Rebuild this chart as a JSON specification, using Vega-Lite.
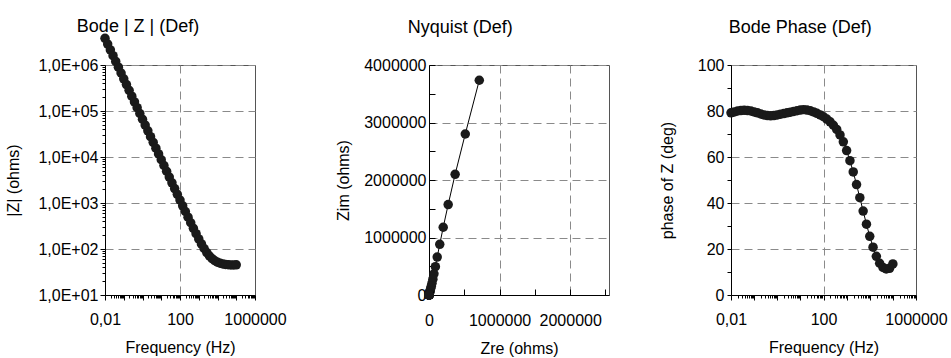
{
  "$schema": "https://vega.github.io/schema/vega-lite/v6.json",
  "background": "white",
  "padding": {"left": 5, "right": 4, "top": 17, "bottom": 0},
  "spacing": 48,
  "config": {
    "font": "Liberation Sans",
    "view": {"stroke": "#555555", "strokeWidth": 1},
    "axis": {
      "labelFont": "Liberation Sans", "labelFontSize": 16, "labelColor": "#000000",
      "titleFont": "Liberation Sans", "titleFontSize": 16, "titleFontWeight": "normal", "titleColor": "#000000",
      "domainColor": "#000000", "tickColor": "#000000", "tickSize": 4,
      "gridColor": "#8a8a8a", "gridDash": [8, 5], "gridWidth": 1,
      "labelFlush": false, "labelOverlap": false
    },
    "title": {"font": "Liberation Sans", "fontSize": 18, "fontWeight": "normal", "color": "#000000", "frame": "bounds", "offset": 20}
  },
  "datasets": {
    "eis": [
      {"f": 0.01, "z": 3802000, "ph": 79.2, "zre": 712500, "zim": 3734700},
      {"f": 0.013895, "z": 2847000, "ph": 79.6, "zre": 513900, "zim": 2800300},
      {"f": 0.019307, "z": 2132000, "ph": 80.0, "zre": 370100, "zim": 2099600},
      {"f": 0.026827, "z": 1596000, "ph": 80.2, "zre": 271600, "zim": 1572700},
      {"f": 0.037276, "z": 1195000, "ph": 80.3, "zre": 201400, "zim": 1177900},
      {"f": 0.051795, "z": 895000, "ph": 80.2, "zre": 152300, "zim": 881900},
      {"f": 0.071969, "z": 670000, "ph": 80.0, "zre": 116300, "zim": 659800},
      {"f": 0.1, "z": 501000, "ph": 79.6, "zre": 90430, "zim": 492800},
      {"f": 0.13895, "z": 375000, "ph": 79.2, "zre": 70280, "zim": 368400},
      {"f": 0.19307, "z": 281000, "ph": 78.7, "zre": 55050, "zim": 275500},
      {"f": 0.26827, "z": 210000, "ph": 78.3, "zre": 42590, "zim": 205600},
      {"f": 0.37276, "z": 157400, "ph": 78.0, "zre": 32720, "zim": 153960},
      {"f": 0.51795, "z": 118000, "ph": 77.9, "zre": 24730, "zim": 115380},
      {"f": 0.71969, "z": 88300, "ph": 78.0, "zre": 18360, "zim": 86370},
      {"f": 1, "z": 66100, "ph": 78.3, "zre": 13410, "zim": 64720},
      {"f": 1.3895, "z": 49500, "ph": 78.6, "zre": 9790, "zim": 48520},
      {"f": 1.9307, "z": 37100, "ph": 78.9, "zre": 7140, "zim": 36410},
      {"f": 2.6827, "z": 27700, "ph": 79.2, "zre": 5190, "zim": 27210},
      {"f": 3.7276, "z": 20800, "ph": 79.5, "zre": 3790, "zim": 20450},
      {"f": 5.1795, "z": 15560, "ph": 79.8, "zre": 2756, "zim": 15310},
      {"f": 7.1969, "z": 11640, "ph": 80.1, "zre": 2001, "zim": 11470},
      {"f": 10, "z": 8720, "ph": 80.4, "zre": 1454, "zim": 8600},
      {"f": 13.895, "z": 6540, "ph": 80.6, "zre": 1068, "zim": 6452},
      {"f": 19.307, "z": 4900, "ph": 80.4, "zre": 817, "zim": 4831},
      {"f": 26.827, "z": 3670, "ph": 80.1, "zre": 631, "zim": 3615},
      {"f": 37.276, "z": 2750, "ph": 79.6, "zre": 496, "zim": 2705},
      {"f": 51.795, "z": 2058, "ph": 79.0, "zre": 393, "zim": 2020},
      {"f": 71.969, "z": 1543, "ph": 78.3, "zre": 313, "zim": 1511},
      {"f": 100, "z": 1156, "ph": 77.5, "zre": 250, "zim": 1129},
      {"f": 138.95, "z": 869, "ph": 76.5, "zre": 203, "zim": 845},
      {"f": 193.07, "z": 653, "ph": 75.3, "zre": 166, "zim": 632},
      {"f": 268.27, "z": 493, "ph": 73.8, "zre": 137.5, "zim": 473.4},
      {"f": 372.76, "z": 372, "ph": 72.0, "zre": 115, "zim": 353.8},
      {"f": 517.95, "z": 282, "ph": 69.6, "zre": 98.3, "zim": 264.3},
      {"f": 719.69, "z": 215, "ph": 66.6, "zre": 85.4, "zim": 197.3},
      {"f": 1000, "z": 166, "ph": 62.8, "zre": 75.9, "zim": 147.6},
      {"f": 1389.5, "z": 129, "ph": 58.4, "zre": 67.6, "zim": 109.9},
      {"f": 1930.7, "z": 102.6, "ph": 53.5, "zre": 61.0, "zim": 82.5},
      {"f": 2682.7, "z": 83.7, "ph": 48.0, "zre": 56.0, "zim": 62.2},
      {"f": 3727.6, "z": 70.5, "ph": 42.3, "zre": 52.1, "zim": 47.4},
      {"f": 5179.5, "z": 61.5, "ph": 36.5, "zre": 49.4, "zim": 36.6},
      {"f": 7196.9, "z": 55.5, "ph": 30.8, "zre": 47.7, "zim": 28.4},
      {"f": 10000, "z": 51.5, "ph": 25.5, "zre": 46.5, "zim": 22.2},
      {"f": 13895, "z": 49.0, "ph": 20.8, "zre": 45.8, "zim": 17.4},
      {"f": 19307, "z": 47.3, "ph": 16.8, "zre": 45.3, "zim": 13.7},
      {"f": 26827, "z": 46.3, "ph": 13.8, "zre": 45.0, "zim": 11.0},
      {"f": 37276, "z": 45.5, "ph": 12.0, "zre": 44.5, "zim": 9.5},
      {"f": 51795, "z": 45.1, "ph": 11.3, "zre": 44.2, "zim": 8.8},
      {"f": 71969, "z": 45.0, "ph": 11.6, "zre": 44.1, "zim": 9.0},
      {"f": 100000, "z": 45.2, "ph": 13.5, "zre": 44.0, "zim": 10.6}
    ]
  },
  "hconcat": [
    {
      "width": 150, "height": 230,
      "title": {"text": "Bode | Z | (Def)", "offset": -2, "dx": -8},
      "data": {"name": "eis"},
      "encoding": {
        "x": {
          "field": "f", "type": "quantitative", "title": "Frequency (Hz)",
          "scale": {"type": "log", "domain": [0.01, 1000000], "nice": false},
          "axis": {
            "values": [0.01, 0.02, 0.03, 0.04, 0.05, 0.06, 0.07, 0.08, 0.09, 0.1, 0.2, 0.3, 0.4, 0.5, 0.6, 0.7, 0.8, 0.9, 1, 2, 3, 4, 5, 6, 7, 8, 9, 10, 20, 30, 40, 50, 60, 70, 80, 90, 100, 200, 300, 400, 500, 600, 700, 800, 900, 1000, 2000, 3000, 4000, 5000, 6000, 7000, 8000, 9000, 10000, 20000, 30000, 40000, 50000, 60000, 70000, 80000, 90000, 100000, 200000, 300000, 400000, 500000, 600000, 700000, 800000, 900000, 1000000],
            "labelExpr": "datum.value == 0.01 ? '0,01' : (datum.value == 100 || datum.value == 1000000 ? format(datum.value, 'd') : '')",
            "grid": true,
            "gridOpacity": {"condition": {"test": "datum.value == 100", "value": 1}, "value": 0},
            "tickSize": {"condition": {"test": "abs(log(datum.value)/LN10 - round(log(datum.value)/LN10)) < 0.000001", "value": 5}, "value": 3},
            "labelPadding": 11,
            "titlePadding": 12
          }
        },
        "y": {
          "field": "z", "type": "quantitative", "title": "|Z| (ohms)",
          "scale": {"type": "log", "domain": [10, 1000000], "nice": false},
          "axis": {
            "values": [10, 20, 30, 40, 50, 60, 70, 80, 90, 100, 200, 300, 400, 500, 600, 700, 800, 900, 1000, 2000, 3000, 4000, 5000, 6000, 7000, 8000, 9000, 10000, 20000, 30000, 40000, 50000, 60000, 70000, 80000, 90000, 100000, 200000, 300000, 400000, 500000, 600000, 700000, 800000, 900000, 1000000],
            "labelExpr": "abs(log(datum.value)/LN10 - round(log(datum.value)/LN10)) < 0.000001 ? '1,0E+0' + round(log(datum.value)/LN10) : ''",
            "grid": true,
            "gridOpacity": {"condition": {"test": "abs(log(datum.value)/LN10 - round(log(datum.value)/LN10)) < 0.000001", "value": 1}, "value": 0},
            "tickSize": {"condition": {"test": "abs(log(datum.value)/LN10 - round(log(datum.value)/LN10)) < 0.000001", "value": 5}, "value": 3},
            "labelPadding": 2,
            "titlePadding": 16
          }
        }
      },
      "layer": [
        {"mark": {"type": "line", "color": "#000000", "strokeWidth": 1}},
        {"mark": {"type": "point", "shape": "circle", "filled": true, "size": 90, "color": "#1a1a1a", "opacity": 1}}
      ]
    },
    {
      "width": 180, "height": 230,
      "title": {"text": "Nyquist (Def)", "dx": -12},
      "data": {"name": "eis"},
      "encoding": {
        "x": {
          "field": "zre", "type": "quantitative", "title": "Zre (ohms)",
          "scale": {"domain": [0, 2550000], "nice": false, "zero": true},
          "axis": {
            "values": [0, 500000, 1000000, 1500000, 2000000, 2500000],
            "labelExpr": "datum.value % 1000000 == 0 ? format(datum.value, 'd') : ''",
            "grid": true,
            "gridOpacity": {"condition": {"test": "datum.value == 1000000 || datum.value == 2000000", "value": 1}, "value": 0},
            "tickSize": -6,
            "labelPadding": 23,
            "titlePadding": 12
          }
        },
        "y": {
          "field": "zim", "type": "quantitative", "title": "Zim (ohms)",
          "scale": {"domain": [0, 4000000], "nice": false},
          "axis": {
            "values": [0, 500000, 1000000, 1500000, 2000000, 2500000, 3000000, 3500000, 4000000],
            "labelExpr": "datum.value % 1000000 == 0 ? format(datum.value, 'd') : ''",
            "grid": true,
            "gridOpacity": {"condition": {"test": "datum.value % 1000000 == 0", "value": 1}, "value": 0},
            "tickSize": -6,
            "labelPadding": 9,
            "titlePadding": 12
          }
        },
        "order": {"field": "f", "type": "quantitative"}
      },
      "layer": [
        {"mark": {"type": "line", "color": "#000000", "strokeWidth": 1}},
        {"mark": {"type": "point", "shape": "circle", "filled": true, "size": 90, "color": "#1a1a1a", "opacity": 1}}
      ]
    },
    {
      "width": 185, "height": 230,
      "title": {"text": "Bode Phase (Def)", "dx": -3},
      "data": {"name": "eis"},
      "encoding": {
        "x": {
          "field": "f", "type": "quantitative", "title": "Frequency (Hz)",
          "scale": {"type": "log", "domain": [0.01, 1000000], "nice": false},
          "axis": {
            "values": [0.01, 0.02, 0.03, 0.04, 0.05, 0.06, 0.07, 0.08, 0.09, 0.1, 0.2, 0.3, 0.4, 0.5, 0.6, 0.7, 0.8, 0.9, 1, 2, 3, 4, 5, 6, 7, 8, 9, 10, 20, 30, 40, 50, 60, 70, 80, 90, 100, 200, 300, 400, 500, 600, 700, 800, 900, 1000, 2000, 3000, 4000, 5000, 6000, 7000, 8000, 9000, 10000, 20000, 30000, 40000, 50000, 60000, 70000, 80000, 90000, 100000, 200000, 300000, 400000, 500000, 600000, 700000, 800000, 900000, 1000000],
            "labelExpr": "datum.value == 0.01 ? '0,01' : (datum.value == 100 || datum.value == 1000000 ? format(datum.value, 'd') : '')",
            "grid": true,
            "gridOpacity": {"condition": {"test": "datum.value == 100", "value": 1}, "value": 0},
            "tickSize": {"condition": {"test": "abs(log(datum.value)/LN10 - round(log(datum.value)/LN10)) < 0.000001", "value": 5}, "value": 3},
            "labelPadding": 11,
            "titlePadding": 12
          }
        },
        "y": {
          "field": "ph", "type": "quantitative", "title": "phase of Z (deg)",
          "scale": {"domain": [0, 100], "nice": false},
          "axis": {
            "values": [0, 10, 20, 30, 40, 50, 60, 70, 80, 90, 100],
            "labelExpr": "datum.value % 20 == 0 ? format(datum.value, 'd') : ''",
            "grid": true,
            "gridOpacity": {"condition": {"test": "datum.value % 20 == 0", "value": 1}, "value": 0},
            "tickSize": 4,
            "labelPadding": 3,
            "titlePadding": 22
          }
        }
      },
      "layer": [
        {"mark": {"type": "line", "color": "#000000", "strokeWidth": 1}},
        {"mark": {"type": "point", "shape": "circle", "filled": true, "size": 90, "color": "#1a1a1a", "opacity": 1}}
      ]
    }
  ]
}
